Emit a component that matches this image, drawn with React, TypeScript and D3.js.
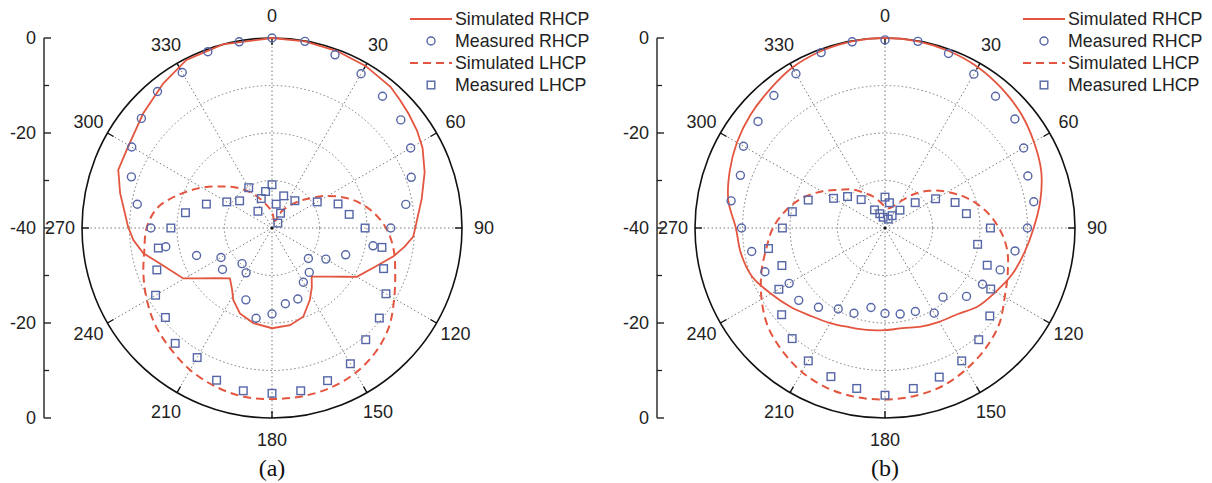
import React from "react";
import * as d3 from "d3";

// ---------- data ----------
const ANGLES = [0, 10, 20, 30, 40, 50, 60, 70, 80, 90, 100, 110, 120, 130, 140, 150, 160, 170, 180, 190, 200, 210, 220, 230, 240, 250, 260, 270, 280, 290, 300, 310, 320, 330, 340, 350];

// (a)
const simRhcpAAngles = [0, 10, 20, 30, 40, 45, 50, 56, 62, 70, 79, 86, 93.5, 98, 103.3, 110.6, 119.9, 123.7, 130, 140.8, 146, 152.2, 160.6, 169.5, 180, 191.1, 200.6, 208.3, 212.8, 219.9, 228.6, 235.1, 240.4, 250.8, 258.9, 265, 270.5, 282.9, 290.7, 299.5, 311.7, 323.1, 333, 345];
const simRhcpAValues = [0, -0.1, -0.3, -0.6, -1.2, -1.9, -2.5, -3.2, -4.1, -5.8, -7.9, -9.3, -10.2, -11.8, -13.8, -16.8, -19.4, -21.5, -24.1, -26.8, -25, -22.9, -20.2, -19.2, -18.9, -19.6, -20.8, -22.8, -24.5, -26.2, -24, -21.5, -18.5, -15.8, -12.4, -10.7, -9.7, -7.2, -5.4, -5.2, -3.7, -1.9, -0.3, 0];
const measRhcpA = [0, -0.1, -1.2, -2.5, -3.8, -4.6, -6.3, -8.8, -11.4, -15, -18.4, -23.5, -26.9, -30, -27.8, -26.8, -24.1, -23.8, -21.9, -20.7, -23.9, -29.1, -30.2, -26.4, -27.6, -23.1, -17.3, -14.5, -11.2, -8.5, -5.9, -4.1, -2.5, -2.2, -0.5, -0.2];
const simLhcpA = [-36.5, -38, -38.5, -36, -33.5, -30.5, -26.5, -22.3, -18.8, -16, -14, -12.4, -10.3, -7.8, -6, -4.8, -4.2, -4, -4, -4, -4.6, -5.5, -6.8, -8, -9.6, -11.2, -12.7, -13.6, -15.5, -19.3, -23, -26.4, -29, -31.5, -33.8, -35.5];
const measLhcpA = [-30.9, -34.9, -32.8, -36.4, -32.5, -38.4, -29, -25.2, -23.5, -20.4, -16.5, -15, -12.3, -10.5, -9.3, -7, -5.8, -5.2, -5.2, -5.2, -5.9, -8.5, -8.3, -10.7, -11.7, -14.2, -15.7, -18.7, -21.5, -25.3, -29, -31.1, -35.4, -30.2, -33.4, -32.2];

// (b)
const simRhcpB = [0, -0.1, -0.4, -0.9, -1.7, -2.6, -3.8, -5, -6.8, -8.7, -10.2, -11.5, -13.1, -14.4, -16.3, -17.2, -17.9, -18.6, -18.5, -18.2, -17.8, -16.9, -15.8, -14.1, -12.3, -10.2, -9.2, -8.6, -6.5, -5.2, -4, -3, -2.1, -1, -0.4, -0.1];
const measRhcpB = [-0.4, -0.1, -0.9, -2.6, -3.8, -4.3, -6.3, -8, -8.2, -10, -12.2, -14.2, -16.3, -17.6, -21, -19.3, -21.3, -21.6, -22, -23, -20.9, -20.3, -18.2, -16.3, -16.7, -13.1, -11.5, -9.8, -7.1, -7.6, -5.6, -5.1, -3.6, -2.5, -0.7, -0.2];
const simLhcpB = [-35.5, -35.8, -35.2, -33.6, -30.8, -27.8, -24.8, -21.6, -18.6, -16, -13.9, -12.5, -10.9, -8.6, -7, -5.7, -4.6, -4.1, -3.9, -3.9, -4.2, -5, -6.3, -7.8, -10, -12.3, -14.6, -16.4, -18.8, -21.5, -24.6, -27.5, -29.4, -31.5, -33, -34.5];
const measLhcpB = [-33.5, -34.6, -38, -37, -35.1, -31.7, -27.7, -24.3, -22.6, -17.8, -20.2, -17.1, -14.3, -11.2, -9.3, -7.7, -6.6, -5.7, -4.8, -5.7, -6.7, -7.7, -9.6, -11.6, -14.2, -16.9, -15.1, -18.4, -20.2, -22.8, -27.5, -29.7, -32.2, -35.6, -36.8, -37.7];

const angleTicks = [0, 30, 60, 90, 120, 150, 180, 210, 240, 270, 300, 330];
const gridRings = [-30, -20, -10];
const axisMajor = [0, -20, -40];
const axisMinor = [-10, -30];
const legendLabels = ["Simulated RHCP", "Measured RHCP", "Simulated LHCP", "Measured LHCP"];

// ---------- styles ----------
const R = 190;
const RED = "#e4553f";
const BLUE = "#5666a6";
const FONT = "Liberation Sans, Arial, sans-serif";

const rScale = d3.scaleLinear().domain([-40, 0]).range([0, R]);
const rad = (deg: number) => (deg * Math.PI) / 180;
const px = (deg: number, r: number) => r * Math.sin(rad(deg));
const py = (deg: number, r: number) => -r * Math.cos(rad(deg));

type PanelProps = {
  cx: number;
  cy: number;
  simR: { a: number[]; v: number[]; linear: boolean };
  measR: number[];
  simL: number[];
  measL: number[];
  tag: string;
};

function Panel({ cx, cy, simR, measR, simL, measL, tag }: PanelProps) {
  const lineLinear = d3
    .lineRadial<[number, number]>()
    .angle((d) => rad(d[0]))
    .radius((d) => rScale(d[1]))
    .curve(d3.curveLinearClosed);
  const lineSmooth = d3
    .lineRadial<[number, number]>()
    .angle((d) => rad(d[0]))
    .radius((d) => rScale(d[1]))
    .curve(d3.curveCatmullRomClosed.alpha(0.5));

  const simRPts: [number, number][] = simR.a.map((a, i) => [a, simR.v[i]]);
  const simLPts: [number, number][] = ANGLES.map((a, i) => [a, simL[i]]);

  const yUp = d3.scaleLinear().domain([0, -40]).range([-R, 0]);
  const yDn = d3.scaleLinear().domain([-40, 0]).range([0, R]);
  const axX = -228;
  const labR = 212;

  const legX0 = 138;
  const legX1 = 180;
  const legRows = [-209, -187, -165, -143];

  return (
    <g transform={`translate(${cx},${cy})`}>
      {/* grid rings */}
      {gridRings.map((g) => (
        <circle key={g} r={rScale(g)} fill="none" stroke="#7a7a7a" strokeWidth={1} strokeDasharray="1.5,2.5" />
      ))}
      {/* spokes */}
      {angleTicks.map((a) => (
        <line key={a} x1={0} y1={0} x2={px(a, R)} y2={py(a, R)} stroke="#7a7a7a" strokeWidth={1} strokeDasharray="1.5,2.5" />
      ))}
      {/* outer circle */}
      <circle r={R} fill="none" stroke="#111" strokeWidth={1.6} />
      {angleTicks.map((a) => (
        <line key={"t" + a} x1={px(a, R)} y1={py(a, R)} x2={px(a, R - 7)} y2={py(a, R - 7)} stroke="#111" strokeWidth={1.4} />
      ))}
      {angleTicks.map((a) => (
        <text
          key={"l" + a}
          x={px(a, labR)}
          y={py(a, labR)}
          dy="0.35em"
          textAnchor="middle"
          fontFamily={FONT}
          fontSize={18}
          fill="#222"
        >
          {a}
        </text>
      ))}
      <circle r={1.6} fill="#111" />

      {/* left radial axis */}
      <line x1={axX} x2={axX} y1={-R} y2={R} stroke="#222" strokeWidth={1.4} />
      {axisMajor.map((v) => (
        <g key={"mu" + v}>
          <line x1={axX} x2={axX + 7} y1={yUp(v)} y2={yUp(v)} stroke="#222" strokeWidth={1.4} />
          <text x={axX - 8} y={yUp(v)} dy="0.35em" textAnchor="end" fontFamily={FONT} fontSize={18} fill="#222">
            {v}
          </text>
        </g>
      ))}
      {axisMajor
        .filter((v) => v !== -40)
        .map((v) => (
          <g key={"md" + v}>
            <line x1={axX} x2={axX + 7} y1={yDn(v)} y2={yDn(v)} stroke="#222" strokeWidth={1.4} />
            <text x={axX - 8} y={yDn(v)} dy="0.35em" textAnchor="end" fontFamily={FONT} fontSize={18} fill="#222">
              {v}
            </text>
          </g>
        ))}
      {axisMinor.map((v) => (
        <g key={"mn" + v}>
          <line x1={axX} x2={axX + 5} y1={yUp(v)} y2={yUp(v)} stroke="#222" strokeWidth={1.3} />
          <line x1={axX} x2={axX + 5} y1={yDn(v)} y2={yDn(v)} stroke="#222" strokeWidth={1.3} />
        </g>
      ))}

      {/* simulated curves */}
      <path d={(simR.linear ? lineLinear : lineSmooth)(simRPts) || ""} fill="none" stroke={RED} strokeWidth={1.8} />
      <path d={lineSmooth(simLPts) || ""} fill="none" stroke={RED} strokeWidth={2} strokeDasharray="8,5" />

      {/* measured markers */}
      {ANGLES.map((a, i) => (
        <circle key={"mr" + a} cx={px(a, rScale(measR[i]))} cy={py(a, rScale(measR[i]))} r={4} fill="none" stroke={BLUE} strokeWidth={1.4} />
      ))}
      {ANGLES.map((a, i) => (
        <rect
          key={"ml" + a}
          x={px(a, rScale(measL[i])) - 3.8}
          y={py(a, rScale(measL[i])) - 3.8}
          width={7.6}
          height={7.6}
          fill="none"
          stroke={BLUE}
          strokeWidth={1.4}
        />
      ))}

      {/* legend */}
      <line x1={legX0} x2={legX1} y1={legRows[0]} y2={legRows[0]} stroke={RED} strokeWidth={1.8} />
      <circle cx={(legX0 + legX1) / 2} cy={legRows[1]} r={4} fill="none" stroke={BLUE} strokeWidth={1.4} />
      <line x1={legX0} x2={legX1} y1={legRows[2]} y2={legRows[2]} stroke={RED} strokeWidth={2} strokeDasharray="8,5" />
      <rect x={(legX0 + legX1) / 2 - 3.8} y={legRows[3] - 3.8} width={7.6} height={7.6} fill="none" stroke={BLUE} strokeWidth={1.4} />
      {legendLabels.map((t, i) => (
        <text key={t} x={legX1 + 3} y={legRows[i]} dy="0.35em" fontFamily={FONT} fontSize={17.8} fill="#222">
          {t}
        </text>
      ))}

      {/* panel tag */}
      <text x={0} y={248} textAnchor="middle" fontFamily="Liberation Serif, Times New Roman, serif" fontSize={24} fill="#111">
        {tag}
      </text>
    </g>
  );
}

export default function App() {
  return (
    <svg width={1212} height={483} style={{ position: "absolute", left: 0, top: 0, background: "#fff" }}>
      <rect width={1212} height={483} fill="#fff" />
      <Panel
        cx={272}
        cy={228}
        simR={{ a: simRhcpAAngles, v: simRhcpAValues, linear: true }}
        measR={measRhcpA}
        simL={simLhcpA}
        measL={measLhcpA}
        tag="(a)"
      />
      <Panel
        cx={885}
        cy={228}
        simR={{ a: ANGLES, v: simRhcpB, linear: false }}
        measR={measRhcpB}
        simL={simLhcpB}
        measL={measLhcpB}
        tag="(b)"
      />
    </svg>
  );
}
